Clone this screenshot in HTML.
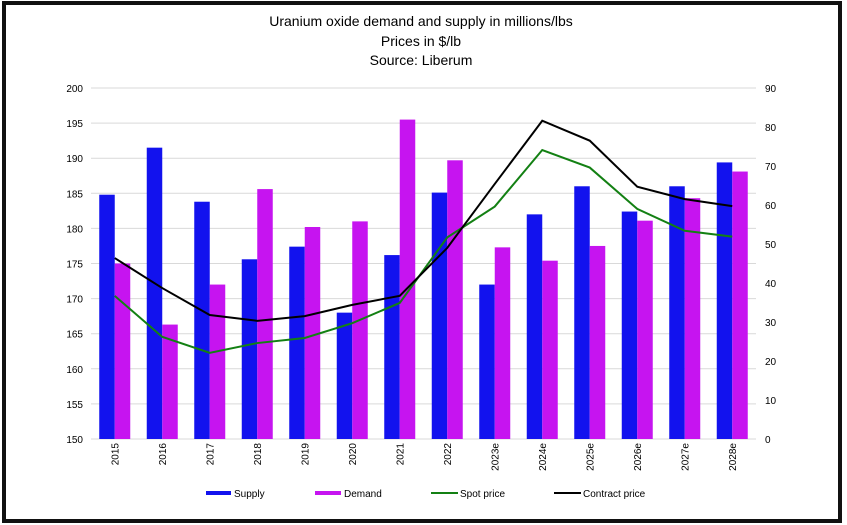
<!DOCTYPE html>
<html><head><meta charset="utf-8"><style>
html,body{margin:0;padding:0;background:#fff;}
svg{display:block;font-family:"Liberation Sans",sans-serif;}
</style></head><body>
<svg id="chart" width="847" height="525">
<rect x="4" y="3" width="836" height="518" fill="#fff" stroke="#111" stroke-width="4"/>
<g font-size="14" text-anchor="middle" fill="#000">
<text x="421" y="26">Uranium oxide demand and supply in millions/lbs</text>
<text x="421" y="46">Prices in $/lb</text>
<text x="421" y="65">Source: Liberum</text>
</g>
<g id="grid"></g><g id="bars"></g><g id="lines"></g><g id="axes"></g>
<g font-size="10">
<g><rect x="206" y="491" width="25" height="4" fill="#1212ee"/><text x="234" y="497">Supply</text></g>
<g><rect x="315" y="491" width="26" height="4" fill="#c614f0"/><text x="344" y="497">Demand</text></g>
<g><rect x="431" y="492" width="27" height="2" fill="#138013"/><text x="460" y="497">Spot price</text></g>
<g><rect x="554" y="492" width="27" height="2" fill="#000"/><text x="583" y="497">Contract price</text></g>
</g>
</svg>
<script>
const categories=["2015","2016","2017","2018","2019","2020","2021","2022","2023e","2024e","2025e","2026e","2027e","2028e"];
const supply=[184.8,191.5,183.8,175.6,177.4,168.0,176.2,185.1,172.0,182.0,186.0,182.4,186.0,189.4];
const demand=[175.0,166.3,172.0,185.6,180.2,181.0,195.5,189.7,177.3,175.4,177.5,181.1,184.3,188.1];
const spotPrice=[36.7,26.2,22.1,24.6,25.9,29.7,34.9,51.7,59.6,74.1,69.6,59.0,53.4,51.9];
const contractPrice=[46.4,38.7,31.8,30.3,31.5,34.4,36.7,49.0,65.4,81.6,76.5,64.7,61.5,59.7];
const leftTicks=[150,155,160,165,170,175,180,185,190,195,200];
const rightTicks=[0,10,20,30,40,50,60,70,80,90];

const NS="http://www.w3.org/2000/svg";
const X0=91,X1=756,Y0=439,Y1=88;
const band=(X1-X0)/categories.length;
const xc=i=>X0+band*(i+0.5);
const yL=v=>Y0-(v-150)/50*(Y0-Y1);
const yR=v=>Y0-v/90*(Y0-Y1);
function mk(tag,attrs,parent){const e=document.createElementNS(NS,tag);for(const k in attrs)e.setAttribute(k,attrs[k]);parent.appendChild(e);return e;}
const grid=document.getElementById('grid'),bars=document.getElementById('bars'),lines=document.getElementById('lines'),axes=document.getElementById('axes');

leftTicks.forEach(t=>{
  const l=mk('line',{x1:X0,x2:X1,y1:yL(t),y2:yL(t),stroke:'#d9d9d9','stroke-width':1},grid);
  
  
  const tx=mk('text',{x:83,y:yL(t)+4,'font-size':10,'text-anchor':'end'},axes);
  tx.textContent=t;
  
  
});
rightTicks.forEach(t=>{
  const tx=mk('text',{x:765,y:yR(t)+4,'font-size':10},axes);
  tx.textContent=t;
  
  
});
const bw=15.5;
categories.forEach((c,i)=>{
  const s=mk('rect',{x:xc(i)-bw,y:yL(supply[i]),width:bw,height:Y0-yL(supply[i]),fill:'#1212ee'},bars);
  
  
  const d=mk('rect',{x:xc(i),y:yL(demand[i]),width:bw,height:Y0-yL(demand[i]),fill:'#c614f0'},bars);
  
  
  const tx=mk('text',{transform:`translate(${xc(i)+3.5},${443}) rotate(-90)`,'font-size':10,'text-anchor':'end'},axes);
  tx.textContent=c;
  
  
});
const sp=mk('polyline',{points:spotPrice.map((v,i)=>xc(i)+','+yR(v)).join(' '),fill:'none',stroke:'#138013','stroke-width':2},lines);


const cp=mk('polyline',{points:contractPrice.map((v,i)=>xc(i)+','+yR(v)).join(' '),fill:'none',stroke:'#000','stroke-width':2},lines);


</script>
</body></html>
